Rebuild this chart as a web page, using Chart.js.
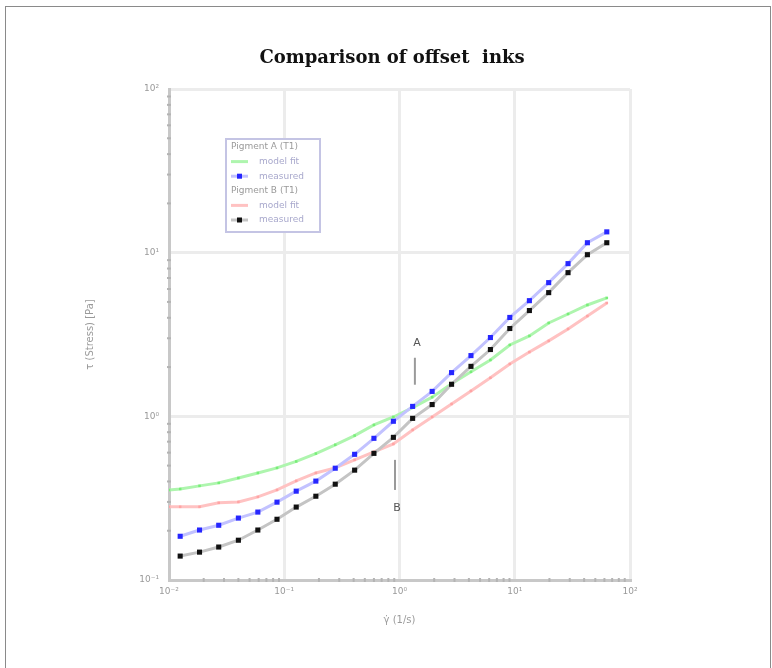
<!DOCTYPE html>
<html><head><meta charset="utf-8">
<script src="https://cdn.jsdelivr.net/npm/chart.js@4/dist/chart.umd.min.js"></script>
<style>
html,body{margin:0;padding:0;background:#fff;overflow:hidden;}
#frame{position:absolute;left:5px;top:6px;width:764px;height:700px;border:1px solid #8a8a8a;}
#wrap{position:absolute;left:0;top:0;width:772px;height:668px;}
</style></head><body>
<div id="frame"></div>
<div id="wrap"><canvas id="c" width="772" height="668"></canvas></div>
<script>
const chartTitle = 'Comparison of offset  inks';
const xLabel = 'γ̇ (1/s)';
const yLabel = 'τ (Stress) [Pa]';
const xTickValues = [0.01, 0.1, 1, 10, 100];
const xTickLabels = ['10⁻²', '10⁻¹', '10⁰', '10¹', '10²'];
const yTickValues = [0.1, 1, 10, 100];
const yTickLabels = ['10⁻¹', '10⁰', '10¹', '10²'];

// shear rates of the model curves (lines) and of the measured points (markers)
const xLine = [0.01, 0.0125, 0.0184, 0.027, 0.040, 0.059, 0.0865, 0.127, 0.188, 0.277, 0.408, 0.60, 0.885, 1.30, 1.92, 2.83, 4.17, 6.15, 9.06, 13.4, 19.7, 29.0, 42.7, 62.9];
const xData = [0.0125, 0.0184, 0.027, 0.040, 0.059, 0.0865, 0.127, 0.188, 0.277, 0.408, 0.60, 0.885, 1.30, 1.92, 2.83, 4.17, 6.15, 9.06, 13.4, 19.7, 29.0, 42.7, 62.9];

const greenA = [0.355, 0.360, 0.376, 0.392, 0.420, 0.451, 0.484, 0.53, 0.592, 0.670, 0.763, 0.886, 0.991, 1.13, 1.31, 1.58, 1.87, 2.21, 2.73, 3.10, 3.72, 4.22, 4.79, 5.29];
const blueA  = [0.185, 0.202, 0.216, 0.239, 0.260, 0.299, 0.349, 0.402, 0.482, 0.586, 0.734, 0.933, 1.15, 1.42, 1.85, 2.35, 3.03, 4.02, 5.09, 6.56, 8.57, 11.5, 13.4];
const pinkB  = [0.28, 0.28, 0.28, 0.296, 0.30, 0.322, 0.355, 0.403, 0.451, 0.484, 0.542, 0.606, 0.678, 0.826, 0.991, 1.19, 1.43, 1.72, 2.09, 2.47, 2.89, 3.42, 4.10, 4.93];
const blackB = [0.140, 0.148, 0.159, 0.175, 0.202, 0.235, 0.279, 0.325, 0.385, 0.469, 0.594, 0.744, 0.972, 1.18, 1.57, 2.02, 2.56, 3.44, 4.43, 5.70, 7.55, 9.72, 11.5];

const legendGroups = ['Pigment A (T1)', 'Pigment B (T1)'];
const seriesNames = ['model fit', 'measured', 'model fit', 'measured'];

const annoText = ['A', 'B'];
const annoX = [1.36, 0.914];
const annoTextY = [2.81, 0.275];
const annoLineFrom = [2.28, 0.542];
const annoLineTo = [1.56, 0.355];

function isMajor(v) { const l = Math.log10(v); return Math.abs(l - Math.round(l)) < 1e-6; }
function logTicks(e0, e1) {
  const out = [];
  for (let e = e0; e < e1; e++) for (let m = 1; m < 10; m++) out.push(+(m * Math.pow(10, e)).toPrecision(6));
  out.push(Math.pow(10, e1));
  return out;
}
function labelFor(v, vals, labs) {
  for (let i = 0; i < vals.length; i++) if (Math.abs(v / vals[i] - 1) < 1e-6) return labs[i];
  return '';
}

const titlePlugin = {
  id: 'ttl',
  afterDraw(chart) {
    const ctx = chart.ctx;
    ctx.save();
    ctx.font = 'bold 18px "DejaVu Serif"';
    ctx.fillStyle = '#111';
    ctx.textAlign = 'center'; ctx.textBaseline = 'middle';
    ctx.fillText(chartTitle, 392, 58);
    ctx.restore();
  }
};

const minorPlugin = {
  id: 'minor',
  afterDraw(chart) {
    const ctx = chart.ctx, a = chart.chartArea;
    const xs = chart.scales.x, ys = chart.scales.y;
    ctx.save();
    ctx.strokeStyle = '#b4b4b4'; ctx.lineWidth = 2;
    xs.ticks.forEach(t => { if (!isMajor(t.value)) { const p = xs.getPixelForValue(t.value); ctx.beginPath(); ctx.moveTo(p, a.bottom - 2); ctx.lineTo(p, a.bottom + 2); ctx.stroke(); } });
    ys.ticks.forEach(t => { if (!isMajor(t.value)) { const p = ys.getPixelForValue(t.value); ctx.beginPath(); ctx.moveTo(a.left - 2, p); ctx.lineTo(a.left + 2, p); ctx.stroke(); } });
    ctx.restore();
  }
};

const annoPlugin = {
  id: 'anno',
  afterDatasetsDraw(chart) {
    const ctx = chart.ctx, xs = chart.scales.x, ys = chart.scales.y;
    ctx.save();
    for (let i = 0; i < annoText.length; i++) {
      const px = xs.getPixelForValue(annoX[i]);
      ctx.strokeStyle = '#9a9a9a'; ctx.lineWidth = 2;
      ctx.beginPath();
      ctx.moveTo(px, ys.getPixelForValue(annoLineFrom[i]));
      ctx.lineTo(px, ys.getPixelForValue(annoLineTo[i]));
      ctx.stroke();
      ctx.fillStyle = '#555';
      ctx.font = '11px "DejaVu Sans"';
      ctx.textAlign = 'center'; ctx.textBaseline = 'middle';
      ctx.fillText(annoText[i], px + 2, ys.getPixelForValue(annoTextY[i]));
    }
    ctx.restore();
  }
};

const legendPlugin = {
  id: 'lgd',
  afterDraw(chart) {
    const ctx = chart.ctx, a = chart.chartArea;
    const L = a.left + 57, T = a.top + 50, W = 94, H = 93;
    ctx.save();
    ctx.fillStyle = '#fff';
    ctx.fillRect(L, T, W, H);
    ctx.strokeStyle = '#c4c4e4'; ctx.lineWidth = 2;
    ctx.strokeRect(L, T, W, H);
    const rows = [
      {type: 'h', text: legendGroups[0]},
      {type: 's', ds: 0, text: seriesNames[0]},
      {type: 's', ds: 1, text: seriesNames[1]},
      {type: 'h', text: legendGroups[1]},
      {type: 's', ds: 2, text: seriesNames[2]},
      {type: 's', ds: 3, text: seriesNames[3]},
    ];
    ctx.textBaseline = 'middle';
    rows.forEach((r, i) => {
      const y = T + 8 + i * 14.6;
      if (r.type === 'h') {
        ctx.fillStyle = '#9a9a9a';
        ctx.font = '9px "DejaVu Sans"';
        ctx.textAlign = 'left';
        ctx.fillText(r.text, L + 5, y);
      } else {
        const d = chart.data.datasets[r.ds];
        ctx.strokeStyle = d.borderColor; ctx.lineWidth = 3;
        ctx.beginPath(); ctx.moveTo(L + 5, y); ctx.lineTo(L + 22, y); ctx.stroke();
        if (d.pointRadius > 2) {
          ctx.fillStyle = d.pointBackgroundColor;
          ctx.fillRect(L + 11, y - 2.5, 5, 5);
        }
        ctx.fillStyle = '#a8a8cc';
        ctx.font = '9px "DejaVu Sans"';
        ctx.textAlign = 'left';
        ctx.fillText(r.text, L + 33, y);
      }
    });
    ctx.restore();
  }
};

const tickFont = {family: '"DejaVu Sans"', size: 9};

new Chart(document.getElementById('c'), {
  type: 'scatter',
  data: {
    datasets: [
      {label: seriesNames[0], data: xLine.map((x, i) => ({x, y: greenA[i]})), showLine: true,
       borderColor: '#aef5ae', borderWidth: 3, pointStyle: 'rect', pointRadius: 1.8,
       pointBackgroundColor: '#78ee78', pointBorderWidth: 0, order: 3},
      {label: seriesNames[1], data: xData.map((x, i) => ({x, y: blueA[i]})), showLine: true,
       borderColor: '#c2c2ff', borderWidth: 3, pointStyle: 'rect', pointRadius: 3.6,
       pointBackgroundColor: '#2626ff', pointBorderWidth: 0, order: 1},
      {label: seriesNames[2], data: xLine.map((x, i) => ({x, y: pinkB[i]})), showLine: true,
       borderColor: '#ffc2c2', borderWidth: 3, pointStyle: 'rect', pointRadius: 1.8,
       pointBackgroundColor: '#ffa4a4', pointBorderWidth: 0, order: 2},
      {label: seriesNames[3], data: xData.map((x, i) => ({x, y: blackB[i]})), showLine: true,
       borderColor: '#c4c4c4', borderWidth: 3, pointStyle: 'rect', pointRadius: 3.6,
       pointBackgroundColor: '#111', pointBorderWidth: 0, order: 0}
    ]
  },
  options: {
    responsive: false,
    animation: false,
    devicePixelRatio: 1,
    layout: {padding: {left: 79, right: 142, top: 89, bottom: 28}},
    plugins: {legend: {display: false}, tooltip: {enabled: false}, title: {display: false}},
    scales: {
      x: {
        type: 'logarithmic', min: 0.01, max: 100, position: 'bottom',
        afterBuildTicks: s => { s.ticks = logTicks(-2, 2).map(v => ({value: v})); },
        afterFit: s => { s.height = 60; },
        grid: {color: c => (c.tick && isMajor(c.tick.value)) ? '#ececec' : 'rgba(0,0,0,0)', lineWidth: 3, drawTicks: false},
        border: {color: '#c8c8c8', width: 3},
        ticks: {autoSkip: false, maxRotation: 0, padding: 6, color: '#9a9a9a', font: tickFont,
                callback: v => labelFor(v, xTickValues, xTickLabels)},
        title: {display: true, text: xLabel, color: '#9a9a9a', font: {family: '"DejaVu Sans"', size: 10}, padding: {top: 0, bottom: 14}}
      },
      y: {
        type: 'logarithmic', min: 0.1, max: 100, position: 'left',
        afterBuildTicks: s => { s.ticks = logTicks(-1, 2).map(v => ({value: v})); },
        afterFit: s => { s.width = 90; },
        grid: {color: c => (c.tick && isMajor(c.tick.value)) ? '#ececec' : 'rgba(0,0,0,0)', lineWidth: 3, drawTicks: false},
        border: {color: '#c8c8c8', width: 3},
        ticks: {autoSkip: false, padding: 10, color: '#9a9a9a', font: tickFont,
                callback: v => labelFor(v, yTickValues, yTickLabels)},
        title: {display: true, text: yLabel, color: '#9a9a9a', font: {family: '"DejaVu Sans"', size: 10}, padding: {top: 5, bottom: 0}}
      }
    }
  },
  plugins: [titlePlugin, minorPlugin, annoPlugin, legendPlugin]
});
</script>
</body></html>
